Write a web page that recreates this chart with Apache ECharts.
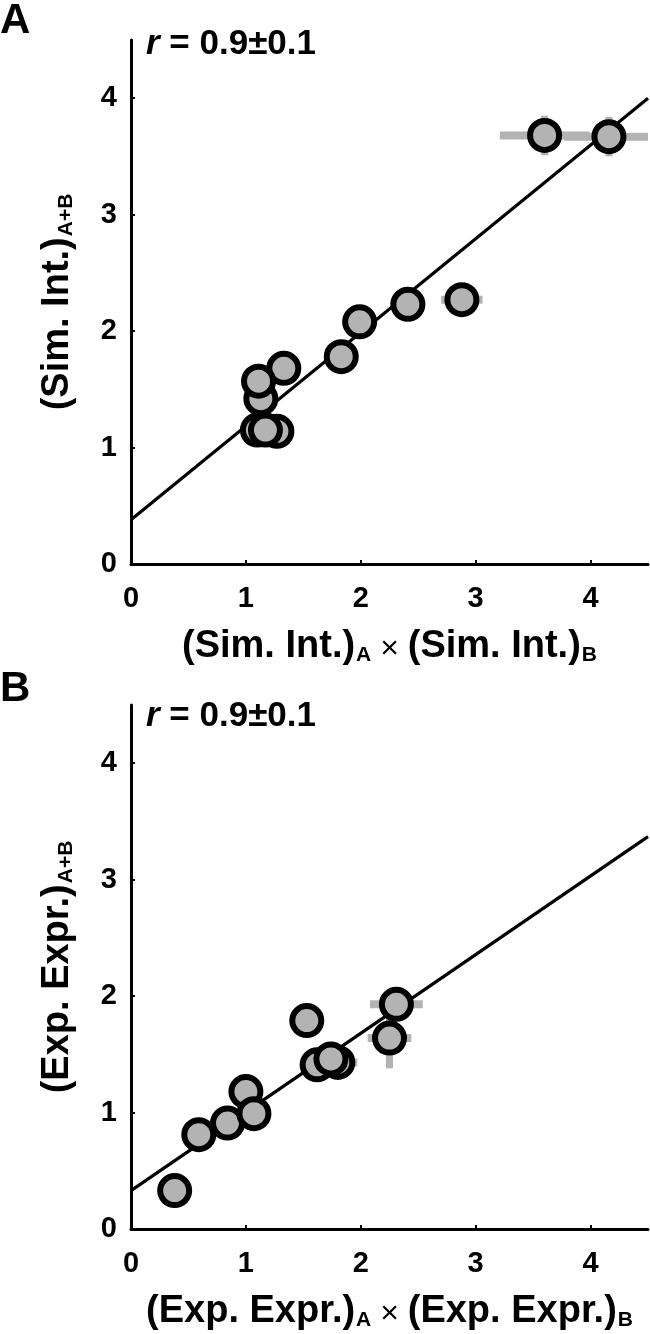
<!DOCTYPE html>
<html>
<head>
<meta charset="utf-8">
<script src="https://cdn.jsdelivr.net/npm/echarts@6/dist/echarts.min.js"></script>
<style>
html,body{margin:0;padding:0;background:#fff;}
#c{width:650px;height:1334px;}
</style>
</head>
<body>
<div id="c"></div>
<script>
// ---- Data ----
var tickValues = [0, 1, 2, 3, 4];
var axisMin = 0, axisMax = 4.5;

// Panel A: simulated interaction
var simX    = [1.33, 1.13, 1.11, 1.10, 1.27, 1.17, 1.83, 1.99, 2.41, 2.88, 3.60, 4.16];
var simY    = [1.68, 1.42, 1.57, 1.15, 1.14, 1.15, 1.78, 2.08, 2.23, 2.27, 3.68, 3.67];
var simXErr = [0, 0, 0, 0, 0, 0, 0, 0, 0.15, 0.18, 0.39, 0.39];
var simYErr = [0, 0, 0, 0, 0, 0, 0, 0, 0.05, 0.05, 0.17, 0.17];
var fitAX = [0, 4.5];
var fitAY = [0.38, 4.0];

// Panel B: experimental expression
var expX    = [0.38, 0.59, 0.84, 1.00, 1.07, 1.53, 1.62, 1.80, 1.74, 2.25, 2.31];
var expY    = [0.33, 0.81, 0.91, 1.18, 0.99, 1.79, 1.41, 1.43, 1.46, 1.64, 1.93];
var expXErr = [0, 0, 0, 0, 0, 0, 0, 0.17, 0, 0.19, 0.23];
var expYErr = [0, 0, 0, 0, 0, 0, 0, 0.05, 0, 0.26, 0.10];
var fitBX = [0, 4.5];
var fitBY = [0.33, 3.37];

var rText = '0.9±0.1';

// ---- Build ----
var FONT = "'Liberation Sans', Arial, Helvetica, sans-serif";
var MAIN = 38, SUB = 21, TICK = 29;
function zip(a, b, c, d) {
  return a.map(function (v, i) { return d ? [v, b[i], c[i], d[i]] : [v, b[i]]; });
}
function nameRich() {
  return {
    m: {fontSize: MAIN, fontWeight: 'bold', fontFamily: FONT, color: '#000', lineHeight: MAIN, verticalAlign: 'top'},
    s: {fontSize: SUB, fontWeight: 'bold', fontFamily: FONT, color: '#000', lineHeight: SUB, padding: [31, 0, 0, 1], verticalAlign: 'bottom'},
    x: {fontSize: 32, fontWeight: 'normal', fontFamily: FONT, color: '#000', lineHeight: 32, verticalAlign: 'top', padding: [5, 0, 0, 0]}
  };
}
function makeX(gi, name) {
  return {
    type: 'value', gridIndex: gi, min: axisMin, max: axisMax, interval: 1,
    name: name, nameLocation: 'middle', nameGap: 58,
    nameTextStyle: {rich: nameRich()},
    axisLine: {show: true, lineStyle: {color: '#000', width: 3}},
    axisTick: {show: true, inside: true, length: 4, lineStyle: {color: '#000', width: 2}, customValues: tickValues},
    axisLabel: {color: '#000', fontSize: TICK, fontWeight: 'bold', fontFamily: FONT, margin: 20, customValues: tickValues,
      formatter: function (v) { return Number.isInteger(v) ? String(v) : ''; }},
    splitLine: {show: false}
  };
}
function makeY(gi, name) {
  return {
    type: 'value', gridIndex: gi, min: axisMin, max: axisMax, interval: 1,
    name: name, nameLocation: 'middle', nameGap: 54, nameRotate: 90,
    nameTextStyle: {rich: nameRich()},
    axisLine: {show: true, lineStyle: {color: '#000', width: 3}},
    axisTick: {show: true, inside: true, length: 4, lineStyle: {color: '#000', width: 2}, customValues: tickValues},
    axisLabel: {color: '#000', fontSize: TICK, fontWeight: 'bold', fontFamily: FONT, margin: 14, customValues: tickValues,
      formatter: function (v) { return Number.isInteger(v) ? String(v) : ''; }},
    splitLine: {show: false}
  };
}
function errSeries(gi, data) {
  return {
    type: 'custom', xAxisIndex: gi, yAxisIndex: gi, z: 1, data: data, silent: true,
    renderItem: function (params, api) {
      var x = api.value(0), y = api.value(1), ex = api.value(2), ey = api.value(3);
      var ch = [];
      if (ex > 0) {
        var a = api.coord([Math.max(axisMin, x - ex), y]), b = api.coord([Math.min(axisMax, x + ex), y]);
        ch.push({type: 'line', shape: {x1: a[0], y1: a[1], x2: b[0], y2: b[1]}, style: {stroke: '#b3b3b3', lineWidth: 8}});
      }
      if (ey > 0) {
        var c = api.coord([x, Math.max(axisMin, y - ey)]), d = api.coord([x, Math.min(axisMax, y + ey)]);
        ch.push({type: 'line', shape: {x1: c[0], y1: c[1], x2: d[0], y2: d[1]}, style: {stroke: '#b3b3b3', lineWidth: 7}});
      }
      return {type: 'group', children: ch};
    }
  };
}
function fitSeries(gi, xs, ys) {
  return {type: 'line', xAxisIndex: gi, yAxisIndex: gi, z: 2, data: zip(xs, ys), symbol: 'none', silent: true,
    lineStyle: {color: '#000', width: 3.2}};
}
function ptSeries(gi, xs, ys) {
  return {type: 'scatter', xAxisIndex: gi, yAxisIndex: gi, z: 3, data: zip(xs, ys), symbol: 'circle', symbolSize: 29,
    itemStyle: {color: '#b3b3b3', borderColor: '#000', borderWidth: 6, opacity: 1}, silent: true};
}
function rLabel(top) {
  return {type: 'text', left: 146, top: top, style: {text: '{i|r} = ' + rText, fontSize: 35, fontWeight: 'bold', fontFamily: FONT, fill: '#000',
    rich: {i: {fontSize: 35, fontWeight: 'bold', fontStyle: 'italic', fontFamily: FONT}}}};
}
var simName = '{m|(Sim. Int.)}{s|A}{x| × }{m|(Sim. Int.)}{s|B}';
var expName = '{m|(Exp. Expr.)}{s|A}{x| × }{m|(Exp. Expr.)}{s|B}';

var chart = echarts.init(document.getElementById('c'), null, {renderer: 'canvas'});
chart.setOption({
  backgroundColor: '#fff',
  animation: false,
  grid: [
    {left: 131, right: 2, top: 40, height: 524},
    {left: 131, right: 2, top: 705, height: 524}
  ],
  xAxis: [makeX(0, simName), makeX(1, expName)],
  yAxis: [makeY(0, '{m|(Sim. Int.)}{s|A+B}'), makeY(1, '{m|(Exp. Expr.)}{s|A+B}')],
  graphic: [
    {type: 'text', left: 0, top: 0, style: {text: 'A', fontSize: 42, fontWeight: 'bold', fontFamily: FONT, fill: '#000'}},
    {type: 'text', left: 0, top: 668, style: {text: 'B', fontSize: 42, fontWeight: 'bold', fontFamily: FONT, fill: '#000'}},
    rLabel(27),
    rLabel(699)
  ],
  series: [
    errSeries(0, zip(simX, simY, simXErr, simYErr)),
    fitSeries(0, fitAX, fitAY),
    ptSeries(0, simX, simY),
    errSeries(1, zip(expX, expY, expXErr, expYErr)),
    fitSeries(1, fitBX, fitBY),
    ptSeries(1, expX, expY)
  ]
});
</script>
</body>
</html>
